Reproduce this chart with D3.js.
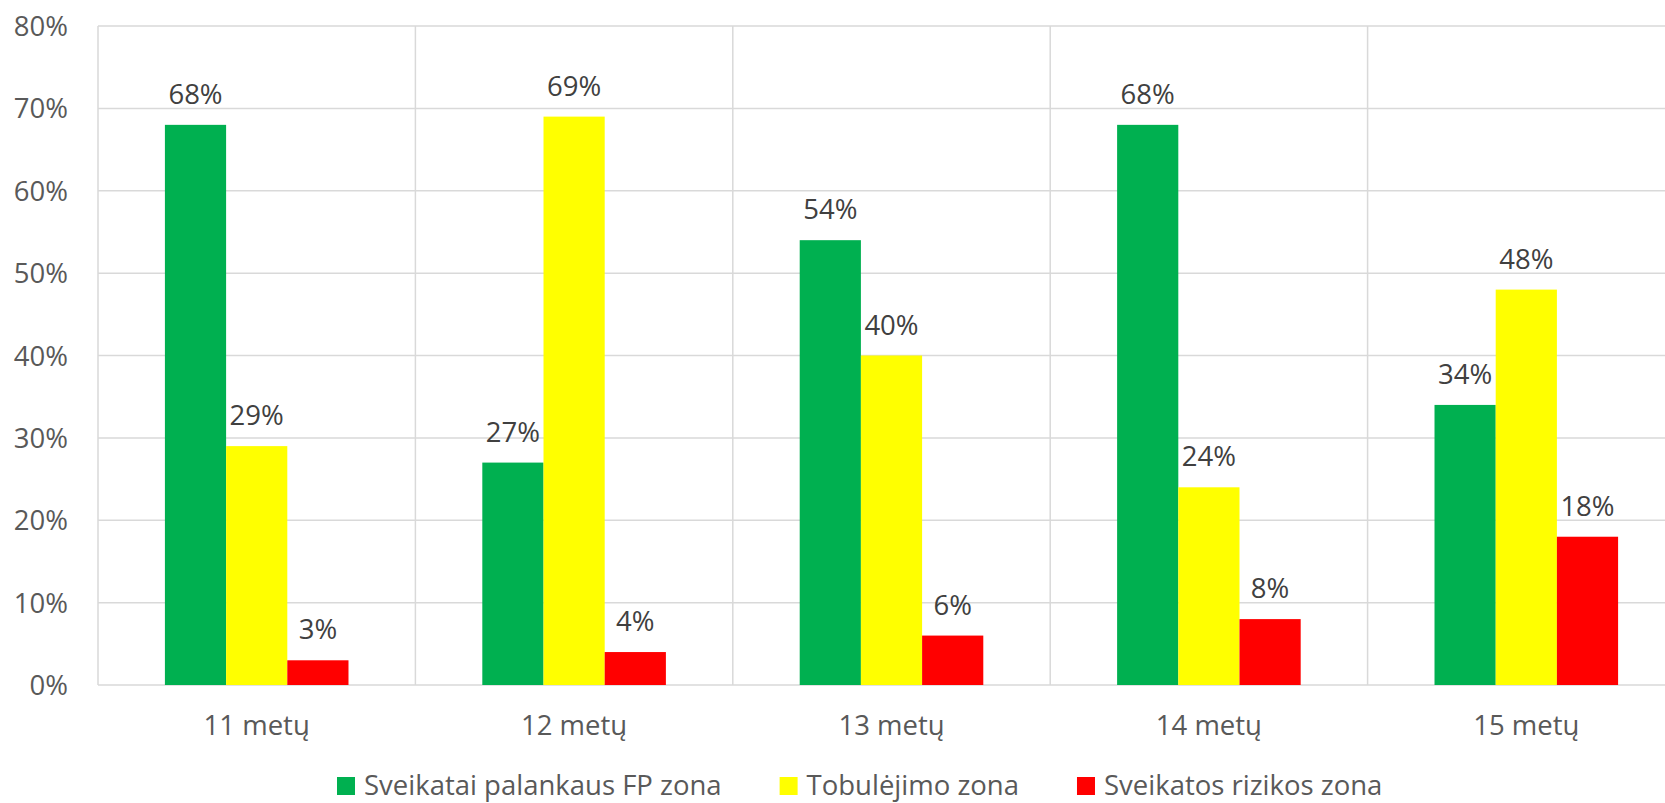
<!DOCTYPE html>
<html>
<head>
<meta charset="utf-8">
<script src="https://cdn.jsdelivr.net/npm/d3@7"></script>
<style>
  html, body { margin: 0; padding: 0; background: #fff; }
  svg { display: block; }
  text { font-family: "Open Sans", "Noto Sans", sans-serif; }
</style>
</head>
<body>
<svg id="chart" width="1665" height="803"></svg>
<script>
// Age groups and the share of pupils in each physical-fitness zone (%)
const categories = ["11 metų", "12 metų", "13 metų", "14 metų", "15 metų"];
const seriesNames = ["Sveikatai palankaus FP zona", "Tobulėjimo zona", "Sveikatos rizikos zona"];
const healthyZone = [68, 27, 54, 68, 34];
const improveZone = [29, 69, 40, 24, 48];
const riskZone = [3, 4, 6, 8, 18];
const yTicks = [0, 10, 20, 30, 40, 50, 60, 70, 80];
const colors = ["#00b050", "#ffff00", "#ff0000"];

const seriesValues = [healthyZone, improveZone, riskZone];

const svg = d3.select("#chart");
const plot = { left: 98, top: 26, bottom: 685, step: 317.4 };
const plotRight = plot.left + plot.step * categories.length;

const x = d3.scaleBand()
  .domain(categories)
  .range([plot.left, plotRight])
  .paddingInner(0.4216)
  .paddingOuter(0.2108);

const xInner = d3.scaleBand()
  .domain(seriesNames)
  .range([0, x.bandwidth()]);

const y = d3.scaleLinear()
  .domain([0, 80])
  .range([plot.bottom, plot.top]);

const gridColor = "#d9d9d9";

// Horizontal gridlines
svg.append("g")
  .selectAll("line")
  .data(yTicks)
  .join("line")
  .attr("x1", plot.left)
  .attr("x2", plotRight)
  .attr("y1", d => y(d))
  .attr("y2", d => y(d))
  .attr("stroke", gridColor)
  .attr("stroke-width", 1.5);

// Vertical separators between categories
const sepPositions = d3.range(categories.length + 1).map(i => plot.left + i * plot.step);
svg.append("g")
  .selectAll("line")
  .data(sepPositions)
  .join("line")
  .attr("x1", d => d)
  .attr("x2", d => d)
  .attr("y1", plot.top)
  .attr("y2", plot.bottom)
  .attr("stroke", gridColor)
  .attr("stroke-width", 1.5);

// Y axis labels
svg.append("g")
  .selectAll("text")
  .data(yTicks)
  .join("text")
  .attr("x", 68)
  .attr("y", d => y(d) + 10)
  .attr("text-anchor", "end")
  .attr("fill", "#595959")
  .attr("font-size", 27.5)
  .text(d => d + "%");

// Bars
const rows = categories.map((c, i) => ({
  cat: c,
  values: seriesNames.map((s, j) => ({ series: s, idx: j, value: seriesValues[j][i] }))
}));

const groups = svg.append("g")
  .selectAll("g")
  .data(rows)
  .join("g")
  .attr("transform", d => `translate(${x(d.cat)},0)`);

groups.selectAll("rect")
  .data(d => d.values)
  .join("rect")
  .attr("x", d => xInner(d.series))
  .attr("width", xInner.bandwidth())
  .attr("y", d => y(d.value))
  .attr("height", d => y(0) - y(d.value))
  .attr("fill", d => colors[d.idx]);

// Value labels above bars
groups.selectAll("text")
  .data(d => d.values)
  .join("text")
  .attr("x", d => xInner(d.series) + xInner.bandwidth() / 2)
  .attr("y", d => y(d.value) - 21)
  .attr("text-anchor", "middle")
  .attr("fill", "#404040")
  .attr("font-size", 27.5)
  .text(d => d.value + "%");

// Category labels
svg.append("g")
  .selectAll("text")
  .data(categories)
  .join("text")
  .attr("x", d => x(d) + x.bandwidth() / 2)
  .attr("y", 735)
  .attr("text-anchor", "middle")
  .attr("fill", "#595959")
  .attr("font-size", 27.5)
  .text(d => d);

// Legend
const legend = svg.append("g");
let lx = 337;
seriesNames.forEach((name, i) => {
  legend.append("rect")
    .attr("x", lx)
    .attr("y", 777)
    .attr("width", 18)
    .attr("height", 18)
    .attr("fill", colors[i]);
  const t = legend.append("text")
    .attr("x", lx + 27)
    .attr("y", 795)
    .attr("fill", "#595959")
    .attr("font-size", 27.5)
    .text(name);
  lx += 27 + t.node().getComputedTextLength() + 58;
});
</script>
</body>
</html>
